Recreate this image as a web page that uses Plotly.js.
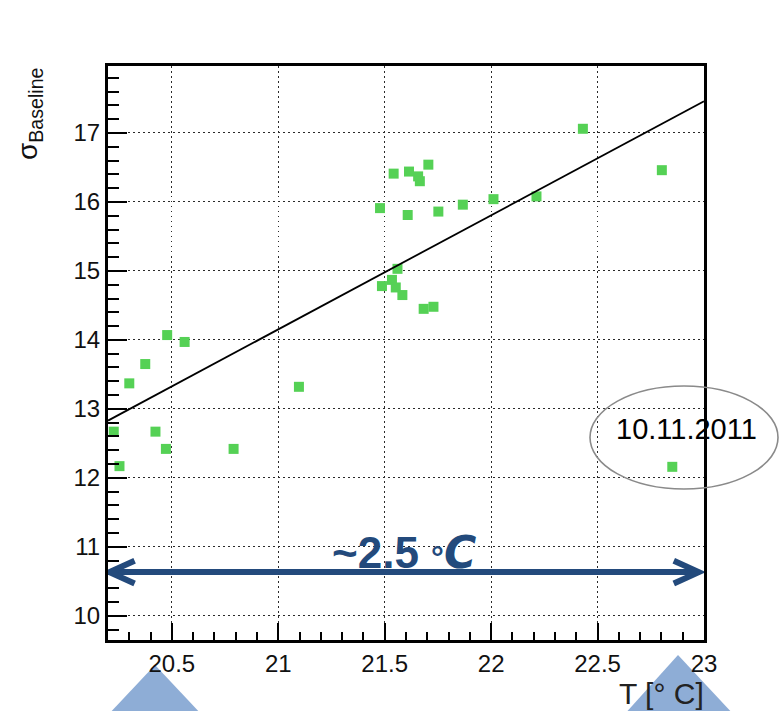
<!DOCTYPE html>
<html>
<head>
<meta charset="utf-8">
<script src="https://cdn.plot.ly/plotly-3.0.1.min.js"></script>
<style>
  html, body { margin: 0; padding: 0; background: #ffffff; }
  #chart { width: 782px; height: 711px; }
</style>
</head>
<body>
<div id="chart"></div>
<script>
// Baseline noise versus temperature, one point per run
const tempC = [20.227, 20.254, 20.300, 20.375, 20.423, 20.472, 20.478, 20.560, 20.790, 21.097,
               21.478, 21.487, 21.534, 21.542, 21.552, 21.560, 21.583, 21.608, 21.614, 21.657,
               21.665, 21.683, 21.705, 21.729, 21.752, 21.867, 22.011, 22.213, 22.431, 22.802,
               22.851];
const sigmaBaseline = [12.67, 12.17, 13.37, 13.65, 12.67, 12.42, 14.07, 13.97, 12.42, 13.32,
                       15.91, 14.78, 14.87, 16.41, 14.76, 15.03, 14.65, 15.81, 16.44, 16.37,
                       16.30, 14.45, 16.54, 14.48, 15.86, 15.96, 16.04, 16.08, 17.06, 16.46,
                       12.16];

// Linear fit drawn across the temperature axis
const fitT = [20.2, 23.0];
const fitSigma = [12.83, 17.46];

// Highlighted run and temperature span
const outlierLabel = '10.11.2011';
const spanLabel = '~2.5';
const spanT = [20.207, 22.976];
const spanSigma = 10.634;

// Plot area in pixels, used to place the overlay decorations
const L = 108, R = 704, T = 66, B = 640;
const W = 782, H = 711;
const px = x => (x - L) / (R - L);
const py = y => (B - y) / (B - T);

const FONT = 'Liberation Sans, Arial, Helvetica, sans-serif';
const NAVY = '#234a7c';
const TRI = 'rgb(142,173,214)';

const traces = [
  {
    x: tempC, y: sigmaBaseline,
    type: 'scatter', mode: 'markers',
    marker: { symbol: 'square', size: 10, color: '#55d155', line: { width: 0 } },
    hoverinfo: 'x+y'
  },
  {
    x: fitT, y: fitSigma,
    type: 'scatter', mode: 'lines',
    line: { color: '#000000', width: 1.8 },
    hoverinfo: 'skip'
  }
];

const axisCommon = {
  showline: true, linecolor: '#000', linewidth: 3, mirror: true,
  ticks: 'inside', tickcolor: '#000', tickwidth: 2,
  showgrid: true, gridcolor: '#2a2a2a', gridwidth: 1, griddash: '1.5px,3.5px',
  zeroline: false,
  tickfont: { family: FONT, size: 24, color: '#111' }
};

// Arrow heads for the temperature span (open chevrons)
const hx = 0.118, hy = 0.165;
const arrowShapes = [
  { type: 'line', xref: 'x', yref: 'y', x0: spanT[0] + 0.01, x1: spanT[1] - 0.01, y0: spanSigma, y1: spanSigma,
    line: { color: NAVY, width: 6 }, layer: 'above' },
  { type: 'path', xref: 'x', yref: 'y',
    path: `M ${spanT[0] + hx},${spanSigma + hy} L ${spanT[0]},${spanSigma} L ${spanT[0] + hx},${spanSigma - hy}`,
    line: { color: NAVY, width: 6 }, layer: 'above' },
  { type: 'path', xref: 'x', yref: 'y',
    path: `M ${spanT[1] - hx},${spanSigma + hy} L ${spanT[1]},${spanSigma} L ${spanT[1] - hx},${spanSigma - hy}`,
    line: { color: NAVY, width: 6 }, layer: 'above' }
];

const layout = {
  width: W, height: H,
  margin: { l: L, r: W - R, t: T, b: H - B, pad: 0 },
  paper_bgcolor: '#ffffff', plot_bgcolor: '#ffffff',
  showlegend: false,
  xaxis: Object.assign({}, axisCommon, {
    range: [20.2, 23.0], dtick: 0.5, tick0: 0, ticklen: 17,
    minor: { dtick: 0.1, tick0: 0, ticks: 'inside', ticklen: 8, tickcolor: '#000', tickwidth: 2, showgrid: false }
  }),
  yaxis: Object.assign({}, axisCommon, {
    range: [9.65, 17.97], dtick: 1, tick0: 0, ticklen: 19,
    minor: { dtick: 0.2, tick0: 0, ticks: 'inside', ticklen: 11, tickcolor: '#000', tickwidth: 2, showgrid: false }
  }),
  shapes: [
    // outlier ring
    { type: 'circle', xref: 'paper', yref: 'paper',
      x0: px(590), x1: px(778), y0: py(489), y1: py(386),
      line: { color: '#8a8a8a', width: 1.6 }, layer: 'above' },
    // pointers under the axis
    { type: 'path', xref: 'paper', yref: 'paper',
      path: `M ${px(155)},${py(665)} L ${px(107)},${py(716)} L ${px(203)},${py(716)} Z`,
      fillcolor: TRI, line: { width: 0 }, layer: 'below' },
    { type: 'path', xref: 'paper', yref: 'paper',
      path: `M ${px(678)},${py(655)} L ${px(623)},${py(716)} L ${px(735)},${py(716)} Z`,
      fillcolor: TRI, line: { width: 0 }, layer: 'below' }
  ].concat(arrowShapes),
  annotations: [
    { text: 'σ<sub>Baseline</sub>', textangle: -90, showarrow: false,
      xref: 'paper', yref: 'paper', x: px(30), y: py(114), xanchor: 'center', yanchor: 'middle',
      font: { family: FONT, size: 28, color: '#111' } },
    { text: 'T [° C]', showarrow: false,
      xref: 'paper', yref: 'paper', x: px(706), y: py(694), xanchor: 'right', yanchor: 'middle',
      font: { family: FONT, size: 30, color: '#222' } },
    { text: outlierLabel, showarrow: false,
      xref: 'paper', yref: 'paper', x: px(686), y: py(429), xanchor: 'center', yanchor: 'middle',
      font: { family: FONT, size: 29, color: '#000' } },
    { text: `<b>${spanLabel} </b><span style="font-size:32px;font-weight:bold">°</span><span style="font-family:'DejaVu Sans';font-style:oblique;font-weight:bold">C</span>`,
      showarrow: false,
      xref: 'paper', yref: 'paper', x: px(404), y: py(552), xanchor: 'center', yanchor: 'middle',
      font: { family: FONT, size: 44, color: NAVY } }
  ]
};

Plotly.newPlot('chart', traces, layout, { staticPlot: true, displayModeBar: false });
</script>
</body>
</html>
